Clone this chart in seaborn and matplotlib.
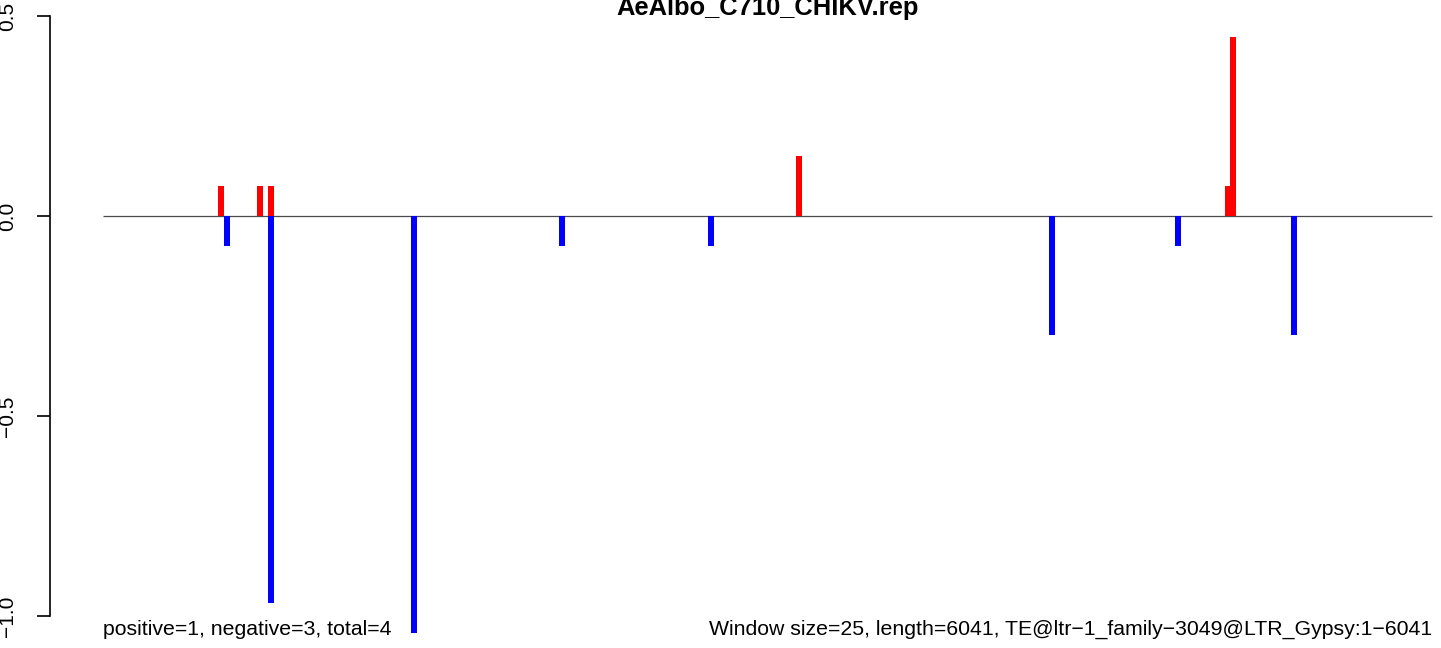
import numpy as np
import pandas as pd
import matplotlib
matplotlib.use("Agg")
import matplotlib.pyplot as plt
import seaborn as sns

# ---------------- data ----------------
title = "AeAlbo_C710_CHIKV.rep"
window_size = 25
seq_length = 6041
pos_windows = [21, 28, 30, 126, 204, 205]
pos_values = [0.0745, 0.0745, 0.0745, 0.149, 0.0745, 0.447]
neg_windows = [22, 30, 56, 83, 110, 172, 195, 216]
neg_values = [-0.0745, -0.968, -1.043, -0.0745, -0.0745, -0.298, -0.0745, -0.298]
yticks = [-1.0, -0.5, 0.0, 0.5]
ytick_labels = ["\u22121.0", "\u22120.5", "0.0", "0.5"]
left_note = "positive=1, negative=3, total=4"
right_note = "Window size=25, length=6041, TE@ltr\u22121_family\u22123049@LTR_Gypsy:1\u22126041"

# ---------------- style ----------------
sns.set_theme(style="white")
plt.rcParams["font.family"] = ["Liberation Sans", "DejaVu Sans"]

W, H = 1441, 648
fig = plt.figure(figsize=(W / 100, H / 100), dpi=100)
fig.patch.set_facecolor("white")

px_per_bp = 1329 / seq_length
ax_left_px = 103 - 0.04 * seq_length * px_per_bp
ax_w_px = 1.08 * seq_length * px_per_bp
ax = fig.add_axes([ax_left_px / W, 0, ax_w_px / W, 1])
ax.set_facecolor("white")

df = pd.DataFrame({
    "pos": [(w + 0.5) * window_size for w in pos_windows] + [(w + 0.5) * window_size for w in neg_windows],
    "value": pos_values + neg_values,
    "dir": ["pos"] * len(pos_windows) + ["neg"] * len(neg_windows),
})

ax.hlines(0, 0, seq_length, color="#4a4a4a", lw=0.9, zorder=1)
sns.barplot(data=df, x="pos", y="value", hue="dir", native_scale=True, dodge=False,
            palette={"pos": "#FF0000", "neg": "#0000FF"}, width=1.09, linewidth=0,
            errorbar=None, legend=False, saturation=1, ax=ax, zorder=2)

ax.set_xlim(-0.04 * seq_length, 1.04 * seq_length)
ax.set_ylim(-1.08, 0.54)
ax.set_xlabel("")
ax.set_ylabel("")
ax.set_xticks([])
for s in ["top", "right", "bottom"]:
    ax.spines[s].set_visible(False)
ax.spines["left"].set_bounds(-1.0, 0.5)
ax.spines["left"].set_color("black")
ax.spines["left"].set_linewidth(1.2)
ax.set_yticks(yticks)
ax.set_yticklabels(ytick_labels, rotation=90, va="center", fontsize=15)
ax.tick_params(axis="y", length=9.4, width=1.2, color="black", pad=14,
               left=True, direction="out", labelcolor="black")

ax.text(0.5, 1 - 15 / H, title, transform=ax.transAxes, ha="center", va="baseline",
        fontsize=18.4, fontweight="bold", color="black")
y_note = (216 - 635) / 400
ax.text(0, y_note, left_note, ha="left", va="baseline", fontsize=15.3, color="black")
ax.text(seq_length, y_note, right_note, ha="right", va="baseline", fontsize=15.3, color="black")

fig.savefig("out.png", dpi=100, facecolor="white")
